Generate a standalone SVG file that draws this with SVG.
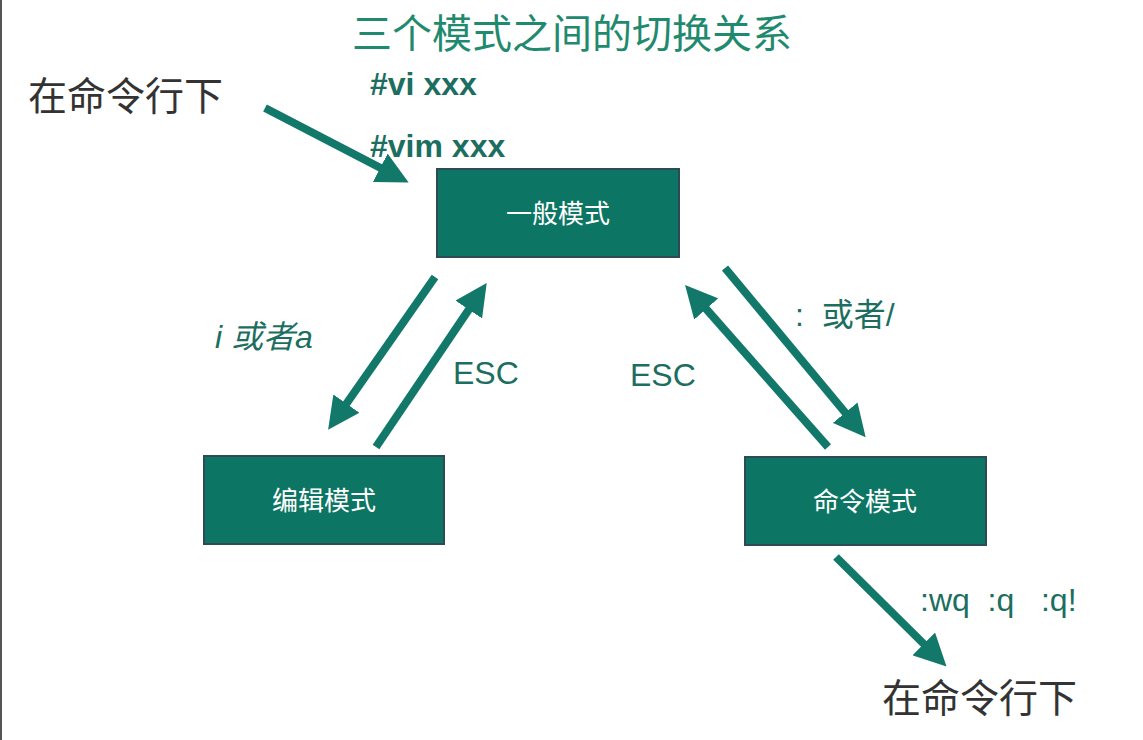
<svg xmlns="http://www.w3.org/2000/svg" width="1143" height="740" viewBox="0 0 1143 740">
<style>
.box{fill:#0d7563;stroke:#2e4a57;stroke-width:2}
.bt{fill:#fff;font-family:"Noto Sans CJK SC",sans-serif;font-size:26px;text-anchor:middle}
.lbl{fill:#1c6e60;font-family:"Liberation Sans","Noto Sans CJK SC",sans-serif;font-size:32px}
.dk{fill:#333;font-family:"Noto Sans CJK SC",sans-serif;font-size:39px}
.ar{stroke:#12786a;stroke-width:8;fill:none;marker-end:url(#h)}
</style>
<defs><marker id="h" markerWidth="4" markerHeight="4" refX="2.5" refY="2" orient="auto"><path d="M0,0L4,2L0,4Z" fill="#12786a"/></marker></defs>
<rect width="1143" height="740" fill="#fff"/>
<line x1="1" y1="0" x2="1" y2="740" stroke="#555" stroke-width="2"/>
<text x="572" y="48" text-anchor="middle" fill="#1f8a6e" font-family="Noto Sans CJK SC,sans-serif" font-size="40">三个模式之间的切换关系</text>
<text x="28" y="110" class="dk">在命令行下</text>
<text x="370" y="95" class="lbl" font-weight="bold" font-size="30">#vi xxx</text>
<text x="370" y="157" class="lbl" font-weight="bold" font-size="30">#vim xxx</text>
<g id="n1"><rect class="box" x="437" y="169" width="242" height="88"/><text class="bt" x="558" y="223">一般模式</text></g>
<g id="n2"><rect class="box" x="204" y="456" width="240" height="88"/><text class="bt" x="324" y="510">编辑模式</text></g>
<g id="n3"><rect class="box" x="745" y="457" width="241" height="88"/><text class="bt" x="865" y="511">命令模式</text></g>
<g id="edges">
<line class="ar" x1="265" y1="108" x2="398" y2="177"/>
<line class="ar" x1="435" y1="277" x2="335" y2="420"/>
<line class="ar" x1="376" y1="447" x2="480" y2="293"/>
<line class="ar" x1="828" y1="447" x2="693" y2="294"/>
<line class="ar" x1="725" y1="268" x2="858" y2="428"/>
<line class="ar" x1="836" y1="557" x2="938" y2="658"/>
</g>
<text x="215" y="348" class="lbl" font-style="italic">i 或者a</text>
<text x="453" y="384" class="lbl">ESC</text>
<text x="630" y="386" class="lbl">ESC</text>
<text x="795" y="326" class="lbl" xml:space="preserve">:  或者/</text>
<text x="920" y="611" class="lbl" font-size="29" xml:space="preserve">:wq  :q   :q!</text>
<text x="882" y="712" class="dk">在命令行下</text>
</svg>
